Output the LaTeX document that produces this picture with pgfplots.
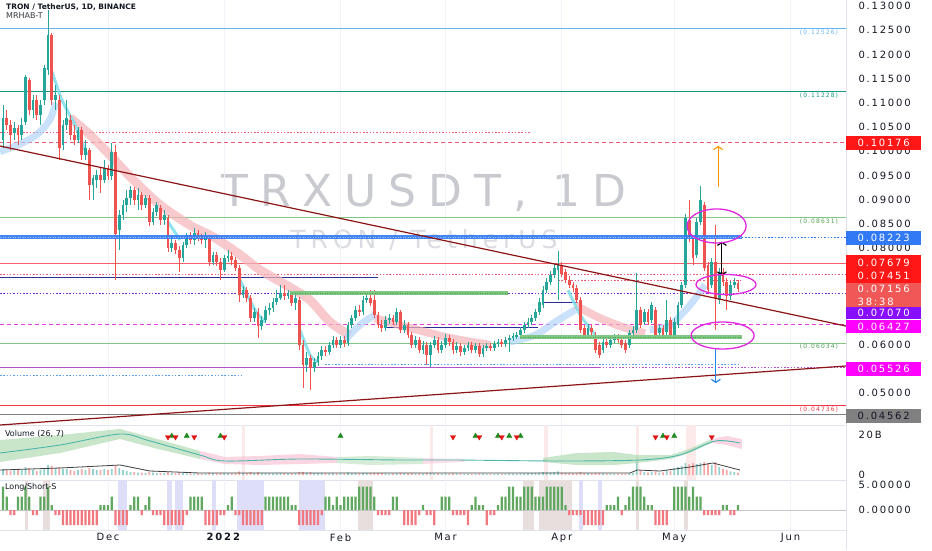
\documentclass[border=0pt]{standalone}
\usepackage{pgfplots}
\pgfplotsset{compat=1.18}
\usepackage{pgfplotstable}
\usepackage{fontspec}
\usetikzlibrary{arrows.meta}
\setmainfont{DejaVu Sans}
\newfontfamily\tvfont[LetterSpace=18]{DejaVu Sans}
\newfontfamily\wmfont[LetterSpace=27]{DejaVu Sans}
\newfontfamily\wmsub[LetterSpace=20]{DejaVu Sans}

\definecolor{txt}{RGB}{19,23,34}
\definecolor{upc}{RGB}{38,166,154}
\definecolor{dnc}{RGB}{239,83,80}
\definecolor{gridc}{RGB}{240,243,250}
\definecolor{sepc}{RGB}{224,227,235}
\definecolor{wm}{RGB}{200,202,208}
\definecolor{wmlight}{RGB}{218,220,225}
\definecolor{lblue}{RGB}{100,181,246}
\definecolor{teal2}{RGB}{20,150,130}
\definecolor{lred}{RGB}{242,54,69}
\definecolor{pred}{RGB}{236,90,120}
\definecolor{lgreen}{RGB}{129,199,132}
\definecolor{dgreen}{RGB}{76,160,80}
\definecolor{bthick}{RGB}{49,121,245}
\definecolor{lpurple}{RGB}{120,40,220}
\definecolor{lmag}{RGB}{230,60,230}
\definecolor{spurple}{RGB}{180,80,205}
\definecolor{dblue}{RGB}{45,45,150}
\definecolor{maroon}{RGB}{140,20,20}
\definecolor{dotblue}{RGB}{90,160,235}
\definecolor{ribpink}{RGB}{247,180,185}
\definecolor{ribblue}{RGB}{173,210,250}
\definecolor{ribcyan}{RGB}{128,222,234}
\definecolor{orng}{RGB}{255,152,0}
\definecolor{arblue}{RGB}{33,130,230}
\definecolor{ellmag}{RGB}{225,40,225}
\definecolor{boxred}{RGB}{255,23,23}
\definecolor{boxlred}{RGB}{240,88,88}
\definecolor{boxpur}{RGB}{136,14,255}
\definecolor{boxmag}{RGB}{255,0,255}
\definecolor{boxgray}{RGB}{128,128,128}
\definecolor{volup}{RGB}{147,210,204}
\definecolor{voldn}{RGB}{247,169,167}
\definecolor{bandg}{RGB}{165,214,167}
\definecolor{bandp}{RGB}{248,187,208}
\definecolor{vline}{RGB}{77,182,172}
\definecolor{sigg}{RGB}{30,140,30}
\definecolor{sigr}{RGB}{225,20,20}
\definecolor{lsg}{RGB}{96,168,96}
\definecolor{lsr}{RGB}{242,120,128}
\definecolor{lav}{RGB}{222,222,248}
\definecolor{gpink}{RGB}{232,222,222}
\definecolor{vpink}{RGB}{252,234,234}

\tikzset{
  pbox/.style={anchor=west, fill=#1, text=white, minimum width=75pt, minimum height=14pt,
    inner sep=1pt, font=\tvfont\fontsize{10}{13}\selectfont},
  lvl/.style={anchor=north east, font=\tvfont\fontsize{6}{7}\selectfont, text=#1, inner sep=1pt},
}
\pgfplotsset{
  wick/.style={draw=none, mark=none, forget plot, error bars/y dir=both, error bars/y explicit,
    error bars/error mark=none, error bars/error bar style={line width=0.7pt, draw=#1}},
  body/.style={draw=none, mark=none, forget plot, error bars/y dir=both, error bars/y explicit,
    error bars/error mark=none, error bars/error bar style={line width=2.8pt, draw=#1}},
  hl/.style={forget plot, no markers, line width=#1},
  dots/.style={dash pattern=on 1.5pt off 1.8pt},
  panel/.style={scale only axis, anchor=south west, width=846pt, xmin=-28.8, xmax=196.8,
    axis line style={draw=none}, tick style={draw=none},
    xtick={0,31,62,90,121,151,182}, xmajorgrids, major grid style={draw=gridc, line width=0.8pt},
    yticklabel pos=right,
    yticklabel style={font=\tvfont\fontsize{10}{12}\selectfont, text=txt, anchor=west, xshift=9pt},
    clip=false},
}

% daily candles: day (0 = 1 Dec 2021), open, high, low, close, volume (B), long/short
\pgfplotstableread{
d o h l c v s
-28 .1023 .1096 .1007 .1069 3 4.7
-27 .1069 .1085 .1044 .1054 2.5 2.7
-26 .1054 .1065 .1003 .1034 2 -1
-25 .1038 .1060 .1023 .1048 2.5 -1
-24 .1048 .1054 .1013 .1034 3 2.7
-23 .1034 .1069 .1023 .1054 2.5 2.7
-22 .1060 .1157 .1054 .1153 4 4.7
-21 .1147 .1151 .1075 .1085 3.5 2.7
-20 .1085 .1116 .1069 .1106 2.5 -1
-19 .1106 .1116 .1065 .1075 2 -1
-18 .1075 .1106 .1054 .1096 2.5 2.7
-17 .1106 .1178 .1096 .1172 3.5 2.7
-16 .1168 .1292 .1157 .1240 5 4.7
-15 .1240 .1244 .1096 .1106 4.5 1
-14 .1106 .1137 .1085 .1116 3 -1
-13 .1106 .1116 .0982 .1007 4 -1
-12 .1013 .1065 .1003 .1054 3 -3
-11 .1054 .1106 .1044 .1069 3 -3
-10 .1065 .1075 .1023 .1034 2.5 -3
-9 .1034 .1054 .1013 .1023 2 -3
-8 .1023 .1050 .1017 .1044 2.5 -3
-7 .1044 .1050 .0982 .0992 3 -3
-6 .0992 .1023 .0982 .1007 2.5 -3
-5 .1003 .1007 .0899 .0930 3.5 -3
-4 .0930 .0951 .0899 .0945 3 -3
-3 .0941 .0961 .0924 .0951 2.5 -3
-2 .0951 .0965 .0914 .0941 2.5 1
-1 .0941 .0982 .0934 .0965 3 1
0 .0965 .0972 .0941 .0949 2.5 1
1 .0949 .1017 .0941 .0998 3 2.7
2 .0998 .1013 .0734 .0829 5 -3
3 .0837 .0879 .0796 .0868 3.5 -3
4 .0868 .0899 .0858 .0889 2.5 -3
5 .0889 .0920 .0874 .0903 2 -3
6 .0903 .0928 .0889 .0920 1.5 1
7 .0920 .0926 .0889 .0899 1.5 2.7
8 .0899 .0924 .0879 .0910 1.2 2.7
9 .0910 .0916 .0879 .0889 1.2 -1
10 .0889 .0910 .0883 .0903 1 1
11 .0903 .0910 .0845 .0854 1.5 2.7
12 .0854 .0883 .0848 .0874 1.2 -1
13 .0874 .0895 .0866 .0889 1 -1
14 .0883 .0889 .0848 .0858 1 -1
15 .0858 .0879 .0848 .0868 1 -3
16 .0862 .0868 .0792 .0800 1.5 -3
17 .0800 .0827 .0792 .0810 1 -3
18 .0810 .0817 .0788 .0796 1 -3
19 .0796 .0804 .0750 .0779 1.2 -3
20 .0779 .0812 .0771 .0806 1 -3
21 .0806 .0831 .0800 .0827 0.8 -1
22 .0827 .0833 .0808 .0817 0.8 2.7
23 .0817 .0841 .0806 .0831 0.8 2.7
24 .0831 .0837 .0814 .0821 0.7 2.7
25 .0821 .0829 .0808 .0817 0.7 2.7
26 .0817 .0833 .0800 .0825 0.8 -3
27 .0821 .0827 .0763 .0771 1.2 -3
28 .0771 .0792 .0765 .0786 0.9 -3
29 .0786 .0792 .0763 .0771 0.8 -3
30 .0771 .0779 .0734 .0755 1 -1
31 .0755 .0786 .0750 .0779 1 -1
32 .0779 .0796 .0771 .0783 0.8 1
33 .0783 .0792 .0765 .0775 0.8 2.7
34 .0775 .0781 .0752 .0759 0.9 -1
35 .0759 .0765 .0688 .0703 1.8 -1
36 .0703 .0722 .0697 .0713 1 -3
37 .0713 .0720 .0688 .0697 1 -3
38 .0697 .0703 .0647 .0655 1.4 -3
39 .0655 .0676 .0647 .0668 1 -3
40 .0668 .0676 .0614 .0639 1.3 -3
41 .0639 .0659 .0631 .0651 1 -3
42 .0651 .0680 .0645 .0672 1 2.7
43 .0672 .0686 .0662 .0676 0.8 2.7
44 .0676 .0697 .0668 .0688 0.8 2.7
45 .0688 .0713 .0682 .0697 0.9 2.7
46 .0697 .0724 .0693 .0707 0.9 2.7
47 .0707 .0724 .0693 .0701 0.8 2.7
48 .0701 .0713 .0695 .0705 0.7 2.7
49 .0705 .0711 .0680 .0686 0.8 1
50 .0686 .0703 .0672 .0697 0.8 1
51 .0693 .0699 .0589 .0600 1.5 -3
52 .0600 .0610 .0511 .0558 1.6 -3
53 .0558 .0585 .0544 .0573 1.1 -3
54 .0573 .0579 .0507 .0552 1.3 -3
55 .0552 .0573 .0544 .0564 1 -3
56 .0564 .0585 .0556 .0577 0.9 -3
57 .0577 .0597 .0569 .0589 0.9 -1
58 .0589 .0597 .0577 .0585 0.8 2.7
59 .0585 .0606 .0579 .0600 0.8 2.7
60 .0600 .0618 .0593 .0610 0.8 1
61 .0610 .0616 .0593 .0600 0.7 2.7
62 .0600 .0618 .0593 .0610 0.8 1
63 .0610 .0618 .0595 .0604 0.7 2.7
64 .0604 .0647 .0597 .0641 1.2 2.7
65 .0641 .0662 .0635 .0655 1 2.7
66 .0655 .0680 .0649 .0672 1 2.7
67 .0672 .0682 .0660 .0668 0.8 4.7
68 .0668 .0701 .0662 .0693 1 4.7
69 .0693 .0705 .0686 .0697 0.9 4.7
70 .0697 .0713 .0680 .0686 0.9 4.7
71 .0693 .0713 .0655 .0662 1.1 2.7
72 .0662 .0668 .0635 .0641 1 -1
73 .0641 .0651 .0627 .0635 0.9 -1
74 .0635 .0659 .0629 .0651 0.8 -1
75 .0651 .0664 .0643 .0655 0.7 -1
76 .0655 .0662 .0641 .0647 0.7 2.7
77 .0647 .0676 .0641 .0668 0.8 2.7
78 .0668 .0672 .0624 .0631 0.9 0
79 .0631 .0651 .0624 .0641 0.8 -3
80 .0641 .0647 .0614 .0620 0.8 -3
81 .0620 .0627 .0593 .0600 0.9 -3
82 .0600 .0618 .0593 .0610 0.7 -3
83 .0610 .0616 .0583 .0589 0.8 -1
84 .0589 .0608 .0581 .0600 0.7 1
85 .0600 .0606 .0558 .0579 1 -1
86 .0579 .0606 .0554 .0600 1 -1
87 .0600 .0618 .0593 .0610 0.8 -3
88 .0610 .0616 .0583 .0589 0.8 0
89 .0589 .0608 .0583 .0600 0.7 2.7
90 .0600 .0622 .0593 .0614 0.8 2.7
91 .0614 .0620 .0597 .0606 0.7 2.7
92 .0606 .0612 .0581 .0589 0.8 -1
93 .0589 .0606 .0583 .0597 0.7 -1
94 .0597 .0604 .0577 .0585 0.7 -1
95 .0585 .0600 .0579 .0593 0.6 -1
96 .0593 .0606 .0587 .0600 0.6 -3
97 .0600 .0606 .0583 .0589 0.6 1
98 .0589 .0604 .0583 .0597 0.6 2.7
99 .0597 .0604 .0575 .0581 0.7 1
100 .0581 .0600 .0575 .0593 0.7 1
101 .0593 .0604 .0587 .0597 0.6 -3
102 .0597 .0604 .0587 .0593 0.6 -1
103 .0593 .0608 .0587 .0602 0.6 -1
104 .0602 .0612 .0595 .0606 0.6 1
105 .0606 .0612 .0595 .0602 0.6 2.7
106 .0602 .0616 .0595 .0610 0.7 2.7
107 .0610 .0620 .0585 .0614 0.8 4.7
108 .0614 .0624 .0608 .0618 0.7 4.7
109 .0618 .0627 .0612 .0620 0.7 2.7
110 .0620 .0637 .0614 .0631 0.8 2.7
111 .0631 .0647 .0624 .0641 0.9 4.7
112 .0641 .0655 .0635 .0647 0.9 4.7
113 .0647 .0662 .0641 .0655 1 4.7
114 .0655 .0674 .0649 .0668 1.1 2.7
115 .0668 .0697 .0662 .0688 1.2 2.7
116 .0682 .0722 .0676 .0713 1.4 2.7
117 .0713 .0738 .0707 .0730 1.3 4.7
118 .0730 .0752 .0724 .0744 1.3 4.7
119 .0744 .0767 .0738 .0759 1.4 4.7
120 .0755 .0794 .0693 .0765 1.8 4.7
121 .0765 .0771 .0740 .0746 1.2 4.7
122 .0750 .0757 .0728 .0734 1 1
123 .0734 .0742 .0717 .0724 0.9 -1
124 .0724 .0730 .0709 .0717 0.8 -1
125 .0717 .0724 .0686 .0693 1 -1
126 .0693 .0699 .0624 .0631 1.4 -1
127 .0635 .0641 .0614 .0620 1 -3
128 .0620 .0643 .0614 .0635 0.8 -3
129 .0635 .0641 .0618 .0627 0.7 -3
130 .0620 .0627 .0583 .0589 1 -3
131 .0600 .0606 .0573 .0579 1 -3
132 .0589 .0612 .0583 .0606 0.8 -3
133 .0606 .0612 .0593 .0600 0.7 1
134 .0600 .0616 .0593 .0610 0.7 1
135 .0610 .0622 .0604 .0616 0.6 1
136 .0616 .0622 .0604 .0610 0.6 2.7
137 .0610 .0616 .0593 .0600 0.7 -1
138 .0604 .0610 .0583 .0589 0.7 1
139 .0600 .0631 .0593 .0624 1 2.7
140 .0624 .0639 .0618 .0631 0.9 4.7
141 .0631 .0748 .0624 .0672 6.5 4.7
142 .0672 .0678 .0635 .0641 2 4.7
143 .0647 .0674 .0641 .0668 1.5 2.7
144 .0668 .0674 .0641 .0647 1.2 1
145 .0651 .0688 .0645 .0682 1.5 1
146 .0672 .0678 .0614 .0620 1.8 -3
147 .0624 .0641 .0618 .0635 1.2 -3
148 .0635 .0641 .0614 .0620 1.3 -3
149 .0627 .0693 .0620 .0651 2.5 -3
150 .0651 .0657 .0614 .0620 2 0
151 .0620 .0655 .0614 .0647 3.5 4.7
152 .0641 .0688 .0635 .0682 4 4.7
153 .0682 .0730 .0676 .0724 4.5 4.7
154 .0724 .0870 .0717 .0862 6 4.7
155 .0858 .0899 .0812 .0821 5.5 2.7
156 .0821 .0827 .0765 .0779 6 4.7
157 .0786 .0862 .0779 .0854 5.5 2.7
158 .0854 .0928 .0848 .0899 6 2.7
159 .0889 .0895 .0752 .0759 6.5 -1
160 .0765 .0771 .0705 .0713 6 -1
161 .0724 .0779 .0717 .0771 5 -1
162 .0771 .0847 .0631 .0697 6.5 -1
163 .0693 .0759 .0684 .0750 4 -1
164 .0750 .0759 .0721 .0730 3 1
165 .0730 .0738 .0672 .0701 2.5 1
166 .0701 .0732 .0693 .0724 1.8 -1
167 .0724 .0738 .0717 .0730 1.5 -1
168 .0728 .0734 .0709 .0716 1.2 1
}\candles

\begin{document}
\begin{tikzpicture}
\path[use as bounding box, fill=white] (0pt,0pt) rectangle (932pt,550pt);

% separators and price-scale border
\draw[sepc, line width=0.8pt] (0pt,125pt) -- (846pt,125pt);
\draw[sepc, line width=0.8pt] (0pt,70pt) -- (846pt,70pt);
\draw[sepc, line width=0.8pt] (0pt,20pt) -- (846pt,20pt);
\draw[sepc, line width=0.8pt] (846pt,0pt) -- (846pt,550pt);

% watermark
\node[anchor=base, font=\wmfont\fontsize{44}{50}\selectfont, text=wm, inner sep=0] at (424pt,343pt) {TRXUSDT, 1D};
\node[anchor=base, font=\wmsub\fontsize{25}{30}\selectfont, text=wmlight, inner sep=0] at (424pt,302pt) {TRON / TetherUS};

% ---------------- price panel ----------------
\begin{axis}[panel, at={(0pt,125pt)}, height=425pt,
  ymin=0.04343, ymax=0.13124, xticklabels={},
  ytick={0.05,0.06,0.08,0.085,0.09,0.095,0.1,0.105,0.11,0.115,0.12,0.125,0.13},
  yticklabels={0.05000,0.06000,0.08000,0.08500,0.09000,0.09500,0.10000,0.10500,0.11000,0.11500,0.12000,0.12500,0.13000}]

% levels under the candles
\addplot[hl=1pt, lblue] coordinates {(-28.8,0.12526) (196.8,0.12526)};
\addplot[hl=1.2pt, teal2] coordinates {(-28.8,0.11228) (196.8,0.11228)};
\addplot[hl=1pt, pred, dots] coordinates {(-28.8,0.10376) (112.5,0.10376)};
\addplot[hl=1pt, pred, dash pattern=on 4pt off 3pt] coordinates {(-28.8,0.10176) (196.8,0.10176)};
\addplot[hl=1pt, lgreen] coordinates {(-28.8,0.08631) (196.8,0.08631)};
\addplot[hl=0.8pt, lred!80] coordinates {(-28.8,0.07679) (196.8,0.07679)};
\addplot[hl=1pt, pred, dots] coordinates {(-28.8,0.07451) (196.8,0.07451)};
\addplot[hl=1pt, pred, dots] coordinates {(120,0.0732) (168.5,0.0732)};
\addplot[hl=1pt, dblue] coordinates {(-28.8,0.0739) (72,0.0739)};
\addplot[hl=1pt, lpurple, dots] coordinates {(-28.8,0.0707) (196.8,0.0707)};
\addplot[hl=1pt, lmag, dash pattern=on 4pt off 3pt] coordinates {(-28.8,0.06427) (196.8,0.06427)};
\addplot[hl=0.9pt, lgreen] coordinates {(-28.8,0.06034) (196.8,0.06034)};
\addplot[hl=1pt, dblue] coordinates {(74.4,0.0635) (114.7,0.0635)};
\addplot[hl=1pt, dblue] coordinates {(116,0.0688) (125.3,0.0688)};
\addplot[hl=1.2pt, spurple] coordinates {(-28.8,0.05526) (131,0.05526)};
\addplot[hl=1pt, spurple, dots] coordinates {(131,0.05526) (196.8,0.05526)};
\addplot[hl=1pt, dotblue, dots] coordinates {(-28.8,0.05376) (36,0.05376)};
\addplot[hl=1pt, dotblue, dots] coordinates {(57.9,0.05583) (168.5,0.05583)};
\addplot[hl=1pt, lred] coordinates {(-28.8,0.04736) (196.8,0.04736)};
\addplot[hl=1.2pt, gray] coordinates {(-28.8,0.04562) (196.8,0.04562)};

% MRHAB-T ribbons
\addplot[hl=9pt, ribpink, opacity=0.7, smooth] coordinates {(-10.1,.1069) (-4.8,.1034) (0.5,.0992) (6.7,.0941) (13.9,.0889) (21.9,.0847) (28.5,.0821) (35.2,.0786) (40.5,.0755) (48.5,.0719) (53.9,.0692) (59.2,.0647) (64.5,.0620)};
\addplot[hl=8pt, ribpink, opacity=0.7, smooth] coordinates {(71.2,.0655) (80.5,.0635) (91.2,.0614) (101.9,.0600)};
\addplot[hl=8pt, ribpink, opacity=0.7, smooth] coordinates {(124.5,.0682) (131.2,.0655) (137.9,.0635) (143.2,.0624)};
\addplot[hl=7pt, ribblue, opacity=0.65, smooth] coordinates {(-28.8,.0999) (-24,.1013) (-19,.1034) (-15.5,.1065) (-14,.1100)};
\addplot[hl=7pt, ribblue, opacity=0.65, smooth] coordinates {(63.2,.0610) (67.2,.0641) (71.2,.0662)};
\addplot[hl=7pt, ribblue, opacity=0.65, smooth] coordinates {(107.2,.0606) (113.9,.0620) (119.2,.0647) (124.5,.0672)};
\addplot[hl=7pt, ribblue, opacity=0.65, smooth] coordinates {(144.5,.0631) (149.9,.0641) (155.2,.0682) (159.2,.0724)};
\addplot[hl=3pt, ribcyan, opacity=0.85, smooth] coordinates {(-14.9,.1164) (-12.3,.1106) (-8.8,.1054) (-5.6,.0992)};
\addplot[hl=3pt, ribcyan, opacity=0.85, smooth] coordinates {(16,.0854) (19.2,.0817)};
\addplot[hl=3pt, ribcyan, opacity=0.85, smooth] coordinates {(35.2,.0734) (39.2,.0672) (41.9,.0647)};
\addplot[hl=3pt, ribcyan, opacity=0.85, smooth] coordinates {(51.2,.0630) (53.9,.0579) (56,.0564)};
\addplot[hl=3pt, ribcyan, opacity=0.85, smooth] coordinates {(122.7,.0713) (125.9,.0662) (129.9,.0620)};

% candles
\addplot[wick=upc, restrict expr to domain={\thisrow{c}-\thisrow{o}}{0:1}]
  table[x=d, y expr={(\thisrow{h}+\thisrow{l})/2}, y error expr={(\thisrow{h}-\thisrow{l})/2}] {\candles};
\addplot[wick=dnc, restrict expr to domain={\thisrow{o}-\thisrow{c}}{0.00001:1}]
  table[x=d, y expr={(\thisrow{h}+\thisrow{l})/2}, y error expr={(\thisrow{h}-\thisrow{l})/2}] {\candles};
\addplot[body=upc, restrict expr to domain={\thisrow{c}-\thisrow{o}}{0:1}]
  table[x=d, y expr={(\thisrow{o}+\thisrow{c})/2}, y error expr={abs(\thisrow{c}-\thisrow{o})/2}] {\candles};
\addplot[body=dnc, restrict expr to domain={\thisrow{o}-\thisrow{c}}{0.00001:1}]
  table[x=d, y expr={(\thisrow{o}+\thisrow{c})/2}, y error expr={abs(\thisrow{c}-\thisrow{o})/2}] {\candles};

% drawings over the candles
\addplot[hl=4.5pt, bthick, opacity=0.9] coordinates {(-28.8,0.08223) (169,0.08223)};
\addplot[hl=1.2pt, white!55!bthick, dash pattern=on 1pt off 1.5pt] coordinates {(-28.8,0.08223) (169,0.08223)};
\addplot[hl=1pt, bthick, dots] coordinates {(169,0.08223) (196.8,0.08223)};
\addplot[hl=4pt, lgreen] coordinates {(48.5,0.0707) (106.7,0.0707)};
\addplot[hl=1pt, dgreen, dash pattern=on 1pt off 1.5pt] coordinates {(48.5,0.0707) (106.7,0.0707)};
\addplot[hl=4pt, lgreen] coordinates {(109.9,0.0616) (169.1,0.0616)};
\addplot[hl=1pt, dgreen, dash pattern=on 1pt off 1.5pt] coordinates {(109.9,0.0616) (169.1,0.0616)};
\addplot[hl=1.2pt, maroon] coordinates {(-28.8,0.10107) (196.8,0.06388)};
\addplot[hl=1.2pt, maroon] coordinates {(-28.8,0.04343) (196.8,0.05562)};

\draw[orng, line width=1.2pt, -{Straight Barb[length=3pt,width=9pt]}] (axis cs:162.7,0.0926) -- (axis cs:162.7,0.1011);
\draw[black, line width=1.2pt, {Straight Barb[length=3pt,width=9pt]}-{Straight Barb[length=3pt,width=9pt]}] (axis cs:163.7,0.0743) -- (axis cs:163.7,0.0813);
\draw[arblue, line width=1.2pt, -{Straight Barb[length=3pt,width=9pt]}] (axis cs:162.1,0.0593) -- (axis cs:162.1,0.0521);
\draw[ellmag, line width=1.3pt] (axis cs:162.3,0.08455) ellipse [x radius=29.5pt, y radius=17pt];
\draw[ellmag, line width=1.3pt] (axis cs:164.8,0.07246) ellipse [x radius=30pt, y radius=10pt];
\draw[ellmag, line width=1.3pt] (axis cs:163.9,0.06192) ellipse [x radius=31.5pt, y radius=13.5pt];

% level captions
\node[lvl=lblue] at (axis cs:195,0.12526) {(0.12526)};
\node[lvl=teal2] at (axis cs:195,0.11228) {(0.11228)};
\node[lvl=dgreen] at (axis cs:195,0.08631) {(0.08631)};
\node[lvl=dgreen] at (axis cs:195,0.06034) {(0.06034)};
\node[lvl=lred] at (axis cs:195,0.04736) {(0.04736)};

% price-scale boxes
\node[pbox=boxred] at (axis cs:196.8,0.10176) {0.10176};
\node[pbox=bthick] at (axis cs:196.8,0.08207) {0.08223};
\node[pbox=boxred, minimum height=28pt, align=center] at (axis cs:196.8,0.07566) {0.07679\\0.07451};
\node[pbox=boxlred, minimum height=24pt, align=left] at (axis cs:196.8,0.07029) {0.07156\\38:38};
\node[pbox=boxpur, minimum height=12pt] at (axis cs:196.8,0.06657) {0.07070};
\node[pbox=boxmag, minimum height=13pt] at (axis cs:196.8,0.06378) {0.06427};
\node[pbox=boxmag] at (axis cs:196.8,0.05510) {0.05526};
\node[pbox=boxgray, text=txt] at (axis cs:196.8,0.04539) {0.04562};
\end{axis}

% ---------------- volume panel ----------------
\begin{axis}[panel, at={(0pt,70pt)}, height=55pt, ymin=-2.5, ymax=25, xticklabels={},
  ytick={0,20}, yticklabels={0,20B}]
\addplot[fill=vpink, draw=none, forget plot] coordinates {(35.7,-2.5) (35.7,25) (36.5,25) (36.5,-2.5)};
\addplot[fill=vpink, draw=none, forget plot] coordinates {(85.9,-2.5) (85.9,25) (86.7,25) (86.7,-2.5)};
\addplot[fill=vpink, draw=none, forget plot] coordinates {(116.3,-2.5) (116.3,25) (117.3,25) (117.3,-2.5)};
\addplot[fill=vpink, draw=none, forget plot] coordinates {(140.8,-2.5) (140.8,25) (141.6,25) (141.6,-2.5)};
\addplot[fill=vpink, draw=none, forget plot] coordinates {(154.1,-2.5) (154.1,25) (156.8,25) (156.8,-2.5)};
% volume cloud
\addplot[fill=bandg, draw=none, opacity=0.6, forget plot] coordinates {(-28.8,17.5) (-12.8,20) (3.2,23) (11.2,19) (24.5,12) (24.5,8) (11.2,14) (3.2,18) (-12.8,11) (-28.8,6.5)};
\addplot[fill=bandp, draw=none, opacity=0.6, forget plot] coordinates {(24.5,12) (31.2,9) (40.5,9.5) (51.2,10.5) (61,9) (61,6) (51.2,5.5) (40.5,5) (31.2,5.5) (24.5,8)};
\addplot[fill=bandg, draw=none, opacity=0.45, forget plot] coordinates {(61,9) (70,9.5) (84,8.5) (84,5.5) (70,5) (61,6)};
\addplot[fill=bandp, draw=none, opacity=0.45, forget plot] coordinates {(84,8.5) (95,8) (95,6.5) (84,5.5)};
\addplot[fill=bandg, draw=none, opacity=0.6, forget plot] coordinates {(116,8.5) (125,11) (135,11.5) (141,10) (141,6) (135,5) (125,5) (116,6.5)};
\addplot[fill=bandg, draw=none, opacity=0.6, forget plot] coordinates {(141,10) (150,10) (155,13) (161,18) (161,16) (155,11) (150,8) (141,6)};
\addplot[fill=bandp, draw=none, opacity=0.6, forget plot] coordinates {(161,18) (165,19.5) (169,18) (169,13) (165,15) (161,16)};
\addplot[hl=0.9pt, vline, smooth] coordinates {(-28.8,11) (-12.8,15) (3.2,20.5) (11.2,17) (24.5,10) (31.2,7) (51.2,8) (77.9,7.5) (92.5,7.5) (120.5,7) (141.9,7.5) (152.5,10) (161.9,17) (168.5,16)};
% volume bars
\addplot[ybar, bar width=1.8pt, bar shift=0pt, fill=volup, draw=none, forget plot,
  restrict expr to domain={\thisrow{c}-\thisrow{o}}{0:1}] table[x=d, y=v] {\candles};
\addplot[ybar, bar width=1.8pt, bar shift=0pt, fill=voldn, draw=none, forget plot,
  restrict expr to domain={\thisrow{o}-\thisrow{c}}{0.00001:1}] table[x=d, y=v] {\candles};
\addplot[hl=0.8pt, black!75] coordinates {(-28.8,2.5) (-12.8,3.5) (3.2,5) (11.2,2) (24.5,1) (77.9,1) (139.2,1) (141.1,2.5) (147.2,2) (155.2,4) (161.3,6) (168.5,2.5)};
% signals
\addplot[only marks, mark=triangle*, mark size=3pt, color=sigg, forget plot] coordinates {(17,19.5) (21,19.5) (30,19.5) (62,19.5) (98,19.5) (104,19.5) (107,19.5) (110,19.5) (148,19.5) (151,19.5)};
\addplot[only marks, mark=triangle*, mark size=3pt, mark options={rotate=180}, color=sigr, forget plot] coordinates {(16,19) (18,19) (23,19) (31,19) (92,19) (99,19) (105,19) (109,19) (146,19) (149,19) (161,19)};
\node[anchor=west, font=\fontsize{8}{9}\selectfont, text=txt, inner sep=0] at (axis cs:-27.5,20.5) {Volume (26, 7)};
\end{axis}

% ---------------- long/short panel ----------------
\begin{axis}[panel, at={(0pt,20pt)}, height=50pt, ymin=-4, ymax=6,
  ytick={0,5}, yticklabels={0.00000,5.00000},
  xticklabels={Dec,\textbf{2022},Feb,Mar,Apr,May,Jun},
  xticklabel style={font=\tvfont\fontsize{10}{12}\selectfont, text=txt}]
\addplot[fill=gpink, draw=none, forget plot] coordinates {(-22.1,-4) (-22.1,6) (-21.3,6) (-21.3,-4)};
\addplot[fill=gpink, draw=none, forget plot] coordinates {(-17.3,-4) (-17.3,6) (-15.5,6) (-15.5,-4)};
\addplot[fill=lav, draw=none, forget plot] coordinates {(2.7,-4) (2.7,6) (5.1,6) (5.1,-4)};
\addplot[fill=lav, draw=none, forget plot] coordinates {(15.7,-4) (15.7,6) (17,6) (17,-4)};
\addplot[fill=lav, draw=none, forget plot] coordinates {(17.9,-4) (17.9,6) (20,6) (20,-4)};
\addplot[fill=lav, draw=none, forget plot] coordinates {(27.7,-4) (27.7,6) (28.8,6) (28.8,-4)};
\addplot[fill=lav, draw=none, forget plot] coordinates {(34.4,-4) (34.4,6) (41.6,6) (41.6,-4)};
\addplot[fill=lav, draw=none, forget plot] coordinates {(50.9,-4) (50.9,6) (57.9,6) (57.9,-4)};
\addplot[fill=gpink, draw=none, forget plot] coordinates {(66.7,-4) (66.7,6) (70.7,6) (70.7,-4)};
\addplot[fill=gpink, draw=none, forget plot] coordinates {(110.7,-4) (110.7,6) (113.6,6) (113.6,-4)};
\addplot[fill=gpink, draw=none, forget plot] coordinates {(115,-4) (115,6) (123.7,6) (123.7,-4)};
\addplot[fill=lav, draw=none, forget plot] coordinates {(125.6,-4) (125.6,6) (126.7,6) (126.7,-4)};
\addplot[fill=lav, draw=none, forget plot] coordinates {(130.7,-4) (130.7,6) (131.7,6) (131.7,-4)};
\addplot[fill=gpink, draw=none, forget plot] coordinates {(140.8,-4) (140.8,6) (141.6,6) (141.6,-4)};
\addplot[fill=gpink, draw=none, forget plot] coordinates {(153.6,-4) (153.6,6) (154.7,6) (154.7,-4)};
\addplot[hl=0.6pt, gray!45] coordinates {(-28.8,0) (196.8,0)};
\addplot[ybar, bar width=2.2pt, bar shift=0pt, fill=lsg, draw=none, forget plot,
  restrict y to domain=0.01:10] table[x=d, y=s] {\candles};
\addplot[ybar, bar width=2.2pt, bar shift=0pt, fill=lsr, draw=none, forget plot,
  restrict y to domain=-10:-0.01] table[x=d, y=s] {\candles};
\node[anchor=west, font=\fontsize{8}{9}\selectfont, text=txt, inner sep=0] at (axis cs:-27.5,4.6) {Long/Short-S};
\end{axis}

% chart header
\node[anchor=west, font=\bfseries\fontsize{7.5}{9}\selectfont, text=txt, inner sep=0] at (6pt,543pt) {TRON / TetherUS, 1D, BINANCE};
\node[anchor=west, font=\fontsize{8}{9}\selectfont, text=txt!85, inner sep=0] at (6pt,534pt) {MRHAB-T};
\end{tikzpicture}
\end{document}
